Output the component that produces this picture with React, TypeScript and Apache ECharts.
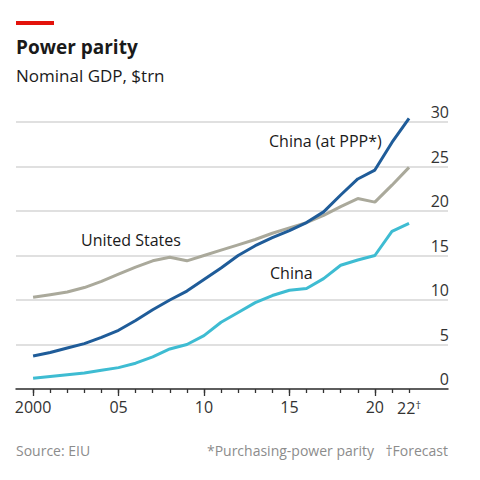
import React, { useEffect, useRef } from "react";
import * as echarts from "echarts";

const years = [2000, 2001, 2002, 2003, 2004, 2005, 2006, 2007, 2008, 2009, 2010, 2011, 2012, 2013, 2014, 2015, 2016, 2017, 2018, 2019, 2020, 2021, 2022];
const usGdp = [10.3, 10.6, 10.9, 11.4, 12.1, 12.9, 13.7, 14.4, 14.8, 14.4, 15.0, 15.6, 16.2, 16.8, 17.5, 18.1, 18.7, 19.5, 20.5, 21.4, 21.0, 22.9, 24.9];
const chinaPpp = [3.7, 4.1, 4.6, 5.1, 5.8, 6.6, 7.7, 8.9, 10.0, 11.0, 12.3, 13.6, 15.0, 16.1, 17.0, 17.8, 18.7, 19.9, 21.8, 23.6, 24.6, 27.7, 30.4];
const chinaGdp = [1.2, 1.4, 1.6, 1.8, 2.1, 2.4, 2.9, 3.6, 4.5, 5.0, 6.0, 7.5, 8.6, 9.7, 10.5, 11.1, 11.3, 12.4, 13.9, 14.5, 15.0, 17.7, 18.6];
const labelYears = [2000, 2005, 2010, 2015, 2020, 2022];
const majorTickYears = [2000, 2005, 2010, 2015, 2020];
const yTicks = { min: 0, max: 30, interval: 5 };

const FONT = "'Open Sans', sans-serif";
const TEXT = "#1a1a1a";
const GREY_TEXT = "#8c8c8c";

export default function App() {
  const ref = useRef<HTMLDivElement>(null);
  useEffect(() => {
    document.body.style.margin = "0";
    if (!ref.current) return;
    const chart = echarts.init(ref.current, undefined, { renderer: "svg" });
    const toPairs = (v: number[]) => years.map((y, i) => [y, v[i]]);
    const xCommon = { type: "value" as const, min: 1999, max: 2024.28, gridIndex: 0, position: "bottom" as const, splitLine: { show: false } };
    chart.setOption({
      animation: false,
      textStyle: { fontFamily: FONT },
      grid: { left: 16, right: 32, top: 122, bottom: 91, containLabel: false },
      xAxis: [
        {
          ...xCommon,
          z: 5,
          axisLine: { show: true, lineStyle: { color: "#333", width: 1.5 } },
          axisTick: { show: true, customValues: years, length: 4, lineStyle: { color: "#333", width: 1.3 } },
          axisLabel: {
            show: true,
            customValues: labelYears,
            margin: 10,
            fontSize: 16,
            color: "#333",
            fontFamily: FONT,
            formatter: (v: number) => {
              if (v === 2000) return "2000";
              if (v === 2022) return "{n|22}{s|†}";
              return String(v % 100).padStart(2, "0");
            },
            rich: {
              n: { fontSize: 16, color: "#333", fontFamily: FONT },
              s: { fontSize: 11, color: "#333", fontFamily: FONT, verticalAlign: "top", padding: [0, 0, 6, 0] },
            },
          },
        },
        {
          ...xCommon,
          z: 5,
          axisLine: { show: false },
          axisTick: { show: true, customValues: majorTickYears, length: 7, lineStyle: { color: "#333", width: 1.3 } },
          axisLabel: { show: false },
        },
      ],
      yAxis: {
        type: "value",
        position: "right",
        min: yTicks.min,
        max: yTicks.max,
        interval: yTicks.interval,
        axisLine: { show: false },
        axisTick: { show: false },
        splitLine: { show: true, lineStyle: { color: "#d6d6d6", width: 1.5 } },
        axisLabel: {
          inside: true,
          margin: -1,
          fontSize: 16,
          color: "#333",
          fontFamily: FONT,
          verticalAlign: "bottom",
          padding: [0, 0, 2, 0],
        },
      },
      series: [
        { name: "United States", type: "line", clip: false, data: toPairs(usGdp), symbol: "none", lineStyle: { color: "#aaa99b", width: 3 }, z: 2 },
        { name: "China", type: "line", clip: false, data: toPairs(chinaGdp), symbol: "none", lineStyle: { color: "#3ebcd2", width: 3 }, z: 2 },
        { name: "China (at PPP*)", type: "line", clip: false, data: toPairs(chinaPpp), symbol: "none", lineStyle: { color: "#1f5c99", width: 3 }, z: 3 },
      ],
      graphic: [
        { type: "rect", shape: { x: 16, y: 21, width: 38, height: 4 }, style: { fill: "#e3120b" } },
        { type: "text", x: 16, y: 47, style: { text: "Power parity", font: `bold 19px ${FONT}`, fill: TEXT, verticalAlign: "middle" } },
        { type: "text", x: 16, y: 75, style: { text: "Nominal GDP, $trn", font: `17px ${FONT}`, fill: TEXT, verticalAlign: "middle" } },
        { type: "text", x: 269, y: 141, style: { text: "China (at PPP*)", font: `16px ${FONT}`, fill: TEXT, verticalAlign: "middle" } },
        { type: "text", x: 81, y: 240, style: { text: "United States", font: `16px ${FONT}`, fill: TEXT, verticalAlign: "middle" } },
        { type: "text", x: 270, y: 273, style: { text: "China", font: `16px ${FONT}`, fill: TEXT, verticalAlign: "middle" } },
        { type: "text", x: 16, y: 450, style: { text: "Source: EIU", font: `14px ${FONT}`, fill: GREY_TEXT, verticalAlign: "middle" } },
        { type: "text", x: 374, y: 450, style: { text: "*Purchasing-power parity", font: `14px ${FONT}`, fill: GREY_TEXT, verticalAlign: "middle", align: "right" } },
        { type: "text", x: 448, y: 450, style: { text: "†Forecast", font: `14px ${FONT}`, fill: GREY_TEXT, verticalAlign: "middle", align: "right" } },
      ],
    });
    return () => chart.dispose();
  }, []);
  return <div ref={ref} style={{ width: 480, height: 480 }} />;
}
